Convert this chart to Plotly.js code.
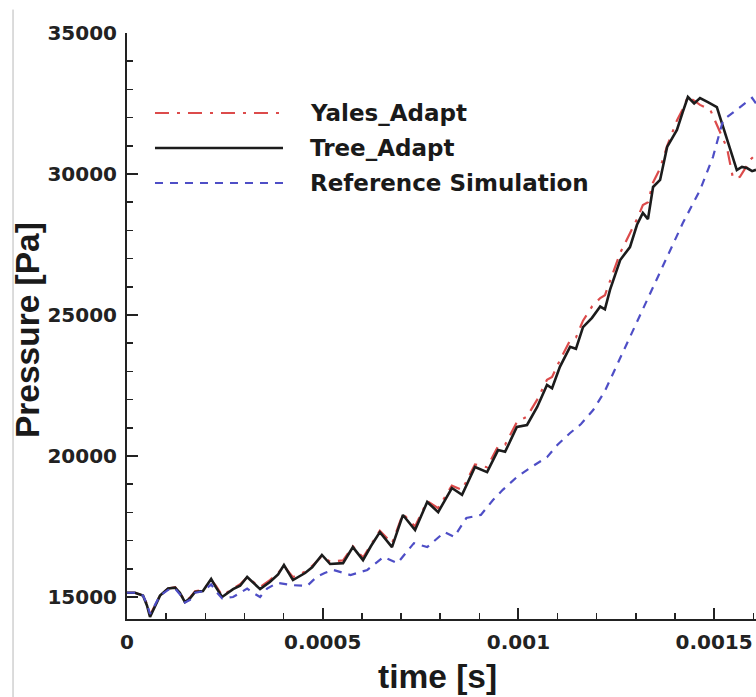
<!DOCTYPE html>
<html>
<head>
<meta charset="utf-8">
<script src="https://cdn.plot.ly/plotly-3.0.1.min.js"></script>
<style>html,body{margin:0;padding:0;background:#fff;}#chart{width:756px;height:697px;}</style>
</head>
<body>
<div id="chart"></div>
<script>
// ---- data (time in s, pressure in Pa) ----
const treeTime = [0,0.0000204,0.0000409,0.000051,0.0000588,0.000069,0.0000843,0.000105,0.000123,0.000135,0.000148,0.000161,0.000174,0.000194,0.000215,0.000227,0.000243,0.000271,0.000289,0.000307,0.000322,0.000340,0.000365,0.000386,0.000401,0.000424,0.000455,0.000473,0.000498,0.000519,0.000552,0.000577,0.000603,0.000623,0.000646,0.000677,0.000705,0.000736,0.000767,0.000795,0.000830,0.000856,0.000889,0.000920,0.000948,0.000966,0.000996,0.001022,0.001048,0.001073,0.001086,0.001106,0.001132,0.001147,0.001165,0.001188,0.001209,0.001221,0.001234,0.001260,0.001285,0.001303,0.001318,0.001331,0.001344,0.001362,0.001380,0.001405,0.001420,0.001433,0.001449,0.001464,0.001484,0.001507,0.001515,0.001528,0.001543,0.001558,0.001571,0.001584,0.001597,0.001607];
const treeP = [15150,15150,15050,14700,14290,14600,15050,15300,15330,15150,14820,14950,15180,15210,15640,15350,15000,15280,15400,15710,15500,15280,15530,15800,16135,15600,15850,16050,16490,16170,16200,16770,16310,16800,17300,16770,17910,17375,18370,18010,18865,18620,19610,19430,20210,20150,21030,21100,21740,22520,22400,23160,23870,23800,24570,24900,25300,25200,25890,26950,27410,28200,28620,28400,29540,29790,30960,31560,32200,32730,32500,32690,32550,32375,32020,31450,30800,30140,30250,30210,30100,30150];

const yalesTime = [0,0.0000204,0.0000409,0.000051,0.0000588,0.000069,0.0000843,0.000105,0.000123,0.000135,0.000148,0.000161,0.000174,0.000194,0.000215,0.000227,0.000243,0.000271,0.000289,0.000307,0.000322,0.000340,0.000365,0.000386,0.000401,0.000424,0.000455,0.000473,0.000498,0.000519,0.000552,0.000577,0.000603,0.000623,0.000646,0.000677,0.000705,0.000736,0.000767,0.000795,0.000830,0.000856,0.000889,0.000920,0.000948,0.000966,0.000996,0.001022,0.001048,0.001073,0.001086,0.001106,0.001132,0.001147,0.001165,0.001188,0.001209,0.001221,0.001234,0.001260,0.001285,0.001303,0.001318,0.001331,0.001344,0.001362,0.001380,0.001405,0.001420,0.001433,0.001449,0.001464,0.001490,0.001510,0.001533,0.001548,0.001566,0.001584,0.001592,0.001607];
const yalesP = [15150,15150,15050,14750,14350,14650,15050,15300,15350,15150,14850,14980,15200,15250,15600,15400,15050,15300,15450,15700,15550,15350,15600,15850,16100,15700,15900,16100,16450,16250,16300,16800,16400,16850,17350,16900,17950,17500,18400,18150,18950,18800,19700,19600,20350,20400,21200,21400,22000,22700,22800,23400,24100,24200,24800,25300,25600,25700,26200,27200,27900,28400,28900,29000,29700,30200,31000,31900,32300,32750,32600,32450,32280,31630,30920,29860,29900,30300,30500,30700];

const refTime = [0,0.0000204,0.0000409,0.000051,0.0000588,0.000069,0.0000843,0.000105,0.000123,0.000135,0.000148,0.000161,0.000174,0.000194,0.000215,0.000227,0.000243,0.000271,0.000289,0.000307,0.000322,0.000340,0.000358,0.000384,0.000424,0.000460,0.000485,0.000505,0.000527,0.000571,0.000614,0.000655,0.000691,0.000733,0.000767,0.000811,0.000836,0.000867,0.000904,0.000935,0.000960,0.000996,0.001032,0.001073,0.001100,0.001132,0.001160,0.001191,0.001221,0.001252,0.001293,0.001336,0.001380,0.001420,0.001464,0.001497,0.001523,0.001558,0.001584,0.001597,0.001607];
const refP = [15150,15150,15050,14750,14400,14650,15050,15250,15300,15100,14800,14900,15150,15200,15450,15200,14950,15000,15150,15300,15150,15000,15300,15500,15420,15390,15720,15850,15960,15780,15960,16420,16200,16910,16770,17300,17130,17800,17910,18440,18800,19255,19600,19960,20400,20815,21135,21630,22305,23230,24470,25710,27060,28260,29430,30600,31910,32270,32550,32700,32500];

const seriesNames = ["Yales_Adapt", "Tree_Adapt", "Reference Simulation"];
const yTickVals = [15000, 20000, 25000, 30000, 35000];
const yTickText = ["15000", "20000", "25000", "30000", "35000"];
const xTickVals = [0, 0.0005, 0.001, 0.0015];
const xTickText = ["0", "0.0005", "0.001", "0.0015"];
const xTitle = "time [s]";
const yTitle = "Pressure [Pa]";

// ---- styles ----
const C_RED = "#dc4b4b", C_BLACK = "#1c1c1c", C_BLUE = "#4e4ec6";
const RED_DASH = "14px,8px,3px,8px", BLUE_DASH = "8px,7px";
const FONT = "DejaVu Sans, Verdana, sans-serif";
const TFONT = "Liberation Sans, Arial, Helvetica, sans-serif";

const traces = [
  {x: yalesTime, y: yalesP, name: seriesNames[0], type: "scatter", mode: "lines",
   line: {color: C_RED, width: 2.2, dash: RED_DASH}},
  {x: treeTime, y: treeP, name: seriesNames[1], type: "scatter", mode: "lines",
   line: {color: C_BLACK, width: 2.6}},
  {x: refTime, y: refP, name: seriesNames[2], type: "scatter", mode: "lines",
   line: {color: C_BLUE, width: 2.2, dash: BLUE_DASH}}
];

const axisCommon = {
  showgrid: false, zeroline: false, showline: true, linecolor: "#222", linewidth: 2,
  ticks: "inside", ticklen: 11, tickwidth: 2, tickcolor: "#222",
  tickfont: {family: FONT, size: 20, color: "#222", weight: "bold"},
  tickmode: "array"
};

// legend geometry (paper coords)
const legY = [0.8635, 0.8038, 0.744];
const legX0 = 0.0445, legX1 = 0.248, legTextX = 0.2878;
const legColors = [C_RED, C_BLACK, C_BLUE];
const legDash = [RED_DASH, "solid", BLUE_DASH];
const legWidth = [2.2, 2.6, 2.2];

const shapes = seriesNames.map((n, i) => ({
  type: "line", xref: "paper", yref: "paper",
  x0: legX0, x1: legX1, y0: legY[i], y1: legY[i],
  line: {color: legColors[i], width: legWidth[i], dash: legDash[i]}
}));
shapes.push({type: "line", xref: "paper", yref: "paper", x0: -0.1812, x1: -0.1812, y0: -0.16, y1: 1.04,
  line: {color: "#b8b8b8", width: 1}});

const annotations = seriesNames.map((n, i) => ({
  text: n, xref: "paper", yref: "paper", x: legTextX, y: legY[i],
  xanchor: "left", yanchor: "middle", showarrow: false,
  font: {family: FONT, size: 23, color: "#1a1a1a", weight: "bold"}
}));
annotations.push({text: xTitle, xref: "paper", yref: "paper", x: 0.493, y: -0.0973,
  xanchor: "center", yanchor: "middle", showarrow: false,
  font: {family: TFONT, size: 33.5, color: "#1a1a1a", weight: "bold"}});
annotations.push({text: yTitle, xref: "paper", yref: "paper", x: -0.159, y: 0.493,
  xanchor: "center", yanchor: "middle", showarrow: false, textangle: -90,
  font: {family: TFONT, size: 33.5, color: "#1a1a1a", weight: "bold"}});

const layout = {
  width: 756, height: 697,
  margin: {l: 127, r: 0, t: 33, b: 78, pad: 0},
  paper_bgcolor: "#fff", plot_bgcolor: "#fff",
  showlegend: false,
  xaxis: Object.assign({}, axisCommon, {
    range: [0, 0.001607], tickvals: xTickVals, ticktext: xTickText, ticklabelstandoff: 4,
    minor: {tickmode: "linear", tick0: 0, dtick: 0.0001, ticks: "inside", ticklen: 6, tickwidth: 1.5, tickcolor: "#222"}
  }),
  yaxis: Object.assign({}, axisCommon, {
    range: [14220, 35000], tickvals: yTickVals, ticktext: yTickText, ticklabelstandoff: 4,
    minor: {tickmode: "linear", tick0: 0, dtick: 1000, ticks: "inside", ticklen: 6, tickwidth: 1.5, tickcolor: "#222"}
  }),
  shapes: shapes,
  annotations: annotations
};

Plotly.newPlot("chart", traces, layout, {displayModeBar: false, staticPlot: true});
</script>
</body>
</html>
